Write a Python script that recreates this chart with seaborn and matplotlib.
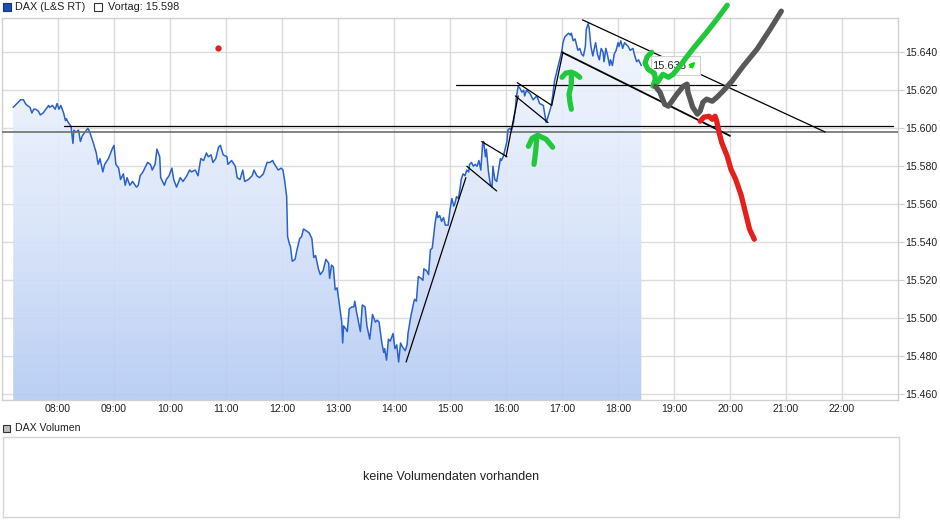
import numpy as np
import pandas as pd
import matplotlib
matplotlib.use("Agg")
import matplotlib.pyplot as plt
import seaborn as sns
from matplotlib.colors import LinearSegmentedColormap
from matplotlib.patches import Rectangle

# DAX (L&S RT) intraday, time in minutes since midnight, value in index points
t_am = [432, 440, 443, 445, 447, 450, 452, 454, 456, 459,
        461, 464, 467, 470, 471, 474, 477, 479, 481, 483,
        486, 488, 489, 491, 494, 496, 497, 499, 502, 504,
        506, 509, 512, 514, 518, 521, 523, 525, 528, 530,
        534, 538, 540, 542, 545, 547, 550, 552, 554, 557,
        560, 564, 566, 568, 571, 576, 579, 581, 584, 586,
        589, 590, 594, 596, 599, 602, 604, 607, 611, 614,
        618, 621, 623, 627, 630, 633, 636, 639, 641, 644,
        646, 649, 652, 654, 657, 661, 662, 666, 670, 672,
        675, 678, 680, 684, 688, 690, 693, 696, 700, 704]
p_am = [15611, 15615, 15615, 15613, 15612, 15611, 15608, 15610, 15610, 15609,
        15607, 15608, 15610, 15612, 15611, 15612, 15610, 15613, 15610, 15612,
        15608, 15604, 15605, 15603, 15601, 15592, 15599, 15598, 15599, 15593,
        15596, 15598, 15600, 15598, 15592, 15587, 15581, 15584, 15577, 15581,
        15584, 15589, 15591, 15581, 15579, 15573, 15576, 15570, 15574, 15570,
        15572, 15569, 15570, 15575, 15577, 15582, 15581, 15578, 15581, 15589,
        15585, 15574, 15570, 15573, 15575, 15579, 15573, 15569, 15574, 15572,
        15575, 15578, 15577, 15578, 15575, 15584, 15583, 15587, 15585, 15586,
        15582, 15584, 15590, 15591, 15586, 15585, 15581, 15583, 15580, 15574,
        15573, 15578, 15572, 15573, 15575, 15578, 15575, 15574, 15576, 15582]

t_mid = [707, 710, 712, 716, 719, 721, 723, 725, 726, 728,
         729, 731, 734, 736, 739, 741, 743, 746, 749, 752,
         754, 756, 759, 761, 764, 767, 770, 771, 773, 775,
         777, 779, 781, 784, 785, 786, 789, 790, 792, 795,
         797, 798, 800, 802, 804, 806, 809, 811, 814, 816,
         817, 820, 822, 824, 827, 829, 830, 832, 834, 836,
         839, 841, 843, 845, 847, 849, 852, 854, 855, 858,
         861, 862, 864, 866, 869, 871, 872, 875, 877, 879,
         881, 884, 886, 887, 889, 891, 893, 895, 898, 900,
         902, 904, 905, 907, 909, 911, 912, 914, 916, 918]
p_mid = [15582, 15583, 15581, 15578, 15579, 15578, 15572, 15564, 15543, 15539,
         15538, 15530, 15531, 15536, 15542, 15543, 15547, 15546, 15545, 15542,
         15532, 15533, 15526, 15523, 15525, 15531, 15529, 15521, 15528, 15527,
         15515, 15516, 15509, 15498, 15487, 15496, 15494, 15493, 15505, 15506,
         15506, 15509, 15503, 15498, 15493, 15507, 15506, 15496, 15489, 15498,
         15502, 15498, 15499, 15498, 15487, 15482, 15484, 15478, 15489, 15488,
         15492, 15484, 15486, 15477, 15487, 15485, 15483, 15486, 15492, 15501,
         15508, 15510, 15509, 15522, 15521, 15520, 15526, 15525, 15523, 15536,
         15537, 15550, 15556, 15553, 15554, 15551, 15553, 15549, 15549, 15557,
         15563, 15559, 15560, 15564, 15563, 15569, 15573, 15576, 15575, 15578]

t_pm = [920, 921, 923, 925, 927, 929, 931, 933, 935, 936,
        938, 939, 941, 943, 945, 946, 948, 950, 952, 954,
        955, 957, 959, 961, 962, 964, 966, 968, 970, 971,
        973, 975, 977, 979, 980, 982, 986, 989, 993, 996,
        1000, 1003, 1005, 1008, 1010, 1012, 1015, 1018, 1020, 1021,
        1023, 1025, 1027, 1029, 1030, 1032, 1034, 1036, 1037, 1039,
        1041, 1043, 1045, 1046, 1048, 1049, 1051, 1053, 1055, 1056,
        1058, 1060, 1062, 1064, 1065, 1067, 1069, 1071, 1072, 1074,
        1076, 1078, 1080, 1081, 1083, 1085, 1087, 1089, 1091, 1093,
        1096, 1098, 1100, 1102, 1104, 1105]
p_pm = [15577, 15581, 15582, 15580, 15581, 15580, 15583, 15578, 15592, 15593,
        15585, 15589, 15578, 15571, 15569, 15580, 15573, 15572, 15578, 15584,
        15583, 15585, 15589, 15593, 15599, 15600, 15599, 15603, 15610, 15616,
        15622, 15621, 15619, 15620, 15617, 15620, 15618, 15615, 15617, 15613,
        15612, 15603, 15606, 15611, 15617, 15625, 15631, 15637, 15641, 15645,
        15648, 15649, 15650, 15649, 15650, 15646, 15647, 15643, 15641, 15642,
        15639, 15638, 15643, 15652, 15655, 15653, 15643, 15638, 15643, 15645,
        15639, 15636, 15642, 15640, 15635, 15642, 15638, 15633, 15636, 15633,
        15639, 15641, 15645, 15643, 15646, 15642, 15645, 15644, 15643, 15641,
        15642, 15638, 15635, 15636, 15634, 15633]

vortag = 15598
last_label = "15.633"
hour_ticks = list(range(8, 23))
price_ticks = list(range(15460, 15641, 20))

# drawn trend lines (minutes, points)
black_lines = {
    "support": ([486, 1375], [15601, 15601]),
    "top": ([906, 1206], [15623, 15623]),
    "rise": ([853, 917], [15477, 15574]),
    "ch1_lo": ([918, 950], [15580, 15567]),
    "ch1_hi": ([934, 961], [15593, 15585]),
    "jump1": ([960, 973], [15585, 15617]),
    "flag_hi": ([972, 1009], [15624, 15612]),
    "flag_lo": ([970, 1005], [15617, 15603]),
    "jump2": ([1009, 1021], [15612, 15640]),
    "ch2_hi": ([1042, 1302], [15657, 15598]),
    "ch2_lo": ([1020, 1200], [15640, 15596]),
}

# hand drawn marker strokes
g1_head_t = [984, 988, 994, 1003, 1010]
g1_head_p = [15590.5, 15594.7, 15596.3, 15594.2, 15590]
g1_shaft_t = [993, 992, 991, 990]
g1_shaft_p = [15595.3, 15589, 15584.7, 15581]
g2_arc_t = [1020, 1024, 1030, 1035, 1039]
g2_arc_p = [15626.8, 15629, 15629.5, 15628.4, 15626.8]
g2_stem_t = [1030, 1030, 1027.5, 1028.5, 1030]
g2_stem_p = [15627.9, 15623.2, 15617.9, 15613.7, 15610]
g3_t = [1116, 1111, 1109, 1112, 1119, 1120, 1117.5, 1123, 1128, 1134, 1139, 1146, 1160, 1175, 1186, 1197]
g3_p = [15640, 15637.4, 15634.2, 15631.1, 15628.9, 15625.8, 15622.1, 15624.7, 15628.4, 15626.8,
        15628.4, 15632.6, 15641.6, 15650.5, 15657.4, 15664.7]
grey_t = [1120, 1125, 1130, 1134, 1143, 1150, 1154, 1155, 1160, 1165, 1168, 1171, 1175, 1181, 1186,
          1192.5, 1202, 1214, 1229, 1243, 1255]
grey_p = [15622.1, 15618.9, 15612.6, 15611.6, 15617.9, 15622.1, 15623.2, 15618.9, 15611.1, 15607.4,
          15609, 15613.7, 15615.3, 15614.2, 15616.3, 15619.5, 15624.7, 15632.6, 15641.6, 15652.1, 15661.6]
red_t = [1168, 1172, 1177.5, 1181, 1184, 1186, 1188, 1191, 1197, 1201, 1206, 1212, 1217, 1221, 1226]
red_p = [15603.7, 15605.8, 15606.3, 15604.7, 15606.3, 15603.2, 15598.4, 15592.6, 15585.3, 15578.4,
         15573.2, 15564.7, 15554.7, 15546.8, 15541.6]
red_dot = (651, 15642)

W, H = 940, 526
sns.set_style("white")
plt.rcParams["font.family"] = ["Liberation Sans", "DejaVu Sans"]

df = pd.DataFrame({"t": np.array(t_am + t_mid + t_pm) / 60.0,
                   "p": p_am + p_mid + p_pm})

y_lo, y_hi = 15457, 15658
fig = plt.figure(figsize=(W / 100, H / 100), dpi=100)
ax = fig.add_axes([2 / W, 1 - 400 / H, 896 / W, 382 / H])

# gradient area under the price line
poly = ax.fill_between(df["t"], df["p"], y_lo, facecolor="none", edgecolor="none")
cmap = LinearSegmentedColormap.from_list("dax", ["#b5cbf3", "#dbe6fa", "#f3f6fd"])
grad = np.linspace(0, 1, 256).reshape(-1, 1)
im = ax.imshow(grad, extent=[df["t"].min(), df["t"].max(), y_lo, y_hi], origin="lower",
               aspect="auto", cmap=cmap, zorder=0.8, alpha=0.92)
im.set_clip_path(poly.get_paths()[0], transform=ax.transData)

sns.lineplot(data=df, x="t", y="p", ax=ax, color="#2a62c9", lw=1.1,
             estimator=None, sort=False, zorder=3)

ax.axhline(vortag, color="#6e6e6e", lw=1.2, zorder=4)
for key, (tt, pp) in black_lines.items():
    lw = 1.3 if key == "ch2_lo" else 0.9
    ax.plot(np.array(tt) / 60, pp, color="black", lw=lw, zorder=4)

# last price label box
ax.add_patch(Rectangle((1115 / 60, 15628), 53 / 60, 10, facecolor="white",
                       edgecolor="#d0d0d0", lw=0.8, zorder=5))
ax.text(1117 / 60, 15633, last_label, fontsize=8, va="center", ha="left", zorder=5.5)
ax.annotate("", xy=(1165 / 60, 15636), xytext=(1155 / 60, 15631),
            arrowprops=dict(arrowstyle="-|>", color="#00dd00", lw=1.2, mutation_scale=8), zorder=5.5)

green = "#22c83c"
stroke = dict(lw=3.8, solid_capstyle="round", solid_joinstyle="round", zorder=6, clip_on=False)
for tt, pp, c in [(g1_head_t, g1_head_p, green), (g1_shaft_t, g1_shaft_p, green),
                  (g2_arc_t, g2_arc_p, green), (g2_stem_t, g2_stem_p, green),
                  (g3_t, g3_p, green), (grey_t, grey_p, "#585858"), (red_t, red_p, "#e3201c")]:
    ax.plot(np.array(tt) / 60, pp, color=c, **stroke)
ax.plot(red_dot[0] / 60, red_dot[1], "o", color="#e3201c", ms=3.5, zorder=6)

ax.set_xlim(7, 23)
ax.set_ylim(y_lo, y_hi)
ax.set_xticks(hour_ticks)
ax.set_xticklabels([f"{h:02d}:00" for h in hour_ticks])
ax.set_yticks(price_ticks)
ax.set_yticklabels([f"{v // 1000}.{v % 1000:03d}" for v in price_ticks])
ax.yaxis.tick_right()
ax.grid(True, color="#dcdcdc", lw=1)
ax.set_axisbelow(True)
ax.tick_params(axis="y", length=4, color="#d0d0d0", pad=1, labelsize=7.6, labelcolor="#222222")
ax.tick_params(axis="x", length=0, pad=3, labelsize=7.6, labelcolor="#222222")
ax.set_xlabel("")
ax.set_ylabel("")
for s in ax.spines.values():
    s.set_color("#d0d0d0")
    s.set_linewidth(1)

# top legend
fig.add_artist(Rectangle((3 / W, 1 - 11 / H), 8 / W, 8 / H, transform=fig.transFigure,
                         facecolor="#1f4fb5", edgecolor="#1a3575", lw=0.8))
fig.text(15 / W, 1 - 7 / H, "DAX (L&S RT)", fontsize=7.8, va="center", color="#222222")
fig.add_artist(Rectangle((94 / W, 1 - 11 / H), 8 / W, 8 / H, transform=fig.transFigure,
                         facecolor="white", edgecolor="#333333", lw=0.8))
fig.text(108 / W, 1 - 7 / H, f"Vortag: {vortag // 1000}.{vortag % 1000:03d}", fontsize=7.8,
         va="center", color="#222222")

# volume panel
fig.add_artist(Rectangle((3 / W, 1 - 432 / H), 7 / W, 7 / H, transform=fig.transFigure,
                         facecolor="#bdbdbd", edgecolor="#333333", lw=0.8))
fig.text(15 / W, 1 - 428 / H, "DAX Volumen", fontsize=7.6, va="center", color="#222222")
ax2 = fig.add_axes([3 / W, 1 - 517 / H, 896 / W, 80 / H])
ax2.set_xticks([])
ax2.set_yticks([])
for s in ax2.spines.values():
    s.set_color("#d6d6d6")
    s.set_linewidth(1)
ax2.text(0.5, 0.5, "keine Volumendaten vorhanden", transform=ax2.transAxes,
         ha="center", va="center", fontsize=9, color="#222222")

fig.savefig("out.png", dpi=100)
